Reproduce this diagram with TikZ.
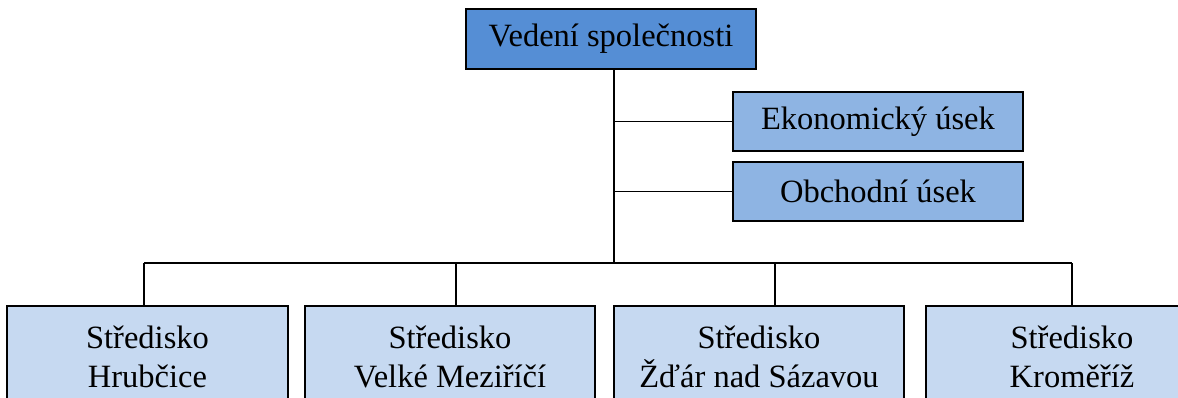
\documentclass[tikz,border=0pt]{standalone}
\usepackage{fontspec}
\setmainfont{Liberation Serif}
\definecolor{topblue}{HTML}{558ED5}
\definecolor{midblue}{HTML}{8EB4E3}
\definecolor{lowblue}{HTML}{C6D9F1}
\begin{document}
\begin{tikzpicture}[x=1pt,y=-1pt,
  boxbase/.style={draw=black,line width=1.5pt,inner sep=0pt,align=center,
    font=\fontsize{32.5}{39}\selectfont},
  topbox/.style={boxbase,fill=topblue,minimum width=290pt,minimum height=60pt},
  midbox/.style={boxbase,fill=midblue,minimum width=290pt,minimum height=59pt},
  lowbox/.style={boxbase,fill=lowblue,minimum height=102pt},
  conn/.style={draw=black,line width=1.4pt}]
\useasboundingbox (0,0) rectangle (1178,398);
\clip (0,0) rectangle (1178,398);
\node[topbox] (top) at (611,39) {Vedení společnosti};
\node[midbox] (eko) at (878,121.5) {Ekonomický úsek};
\node[midbox] (obch) at (878,191.5) {Obchodní úsek};
\node[lowbox,minimum width=281pt] (b1) at (147.5,357) {Středisko\\Hrubčice};
\node[lowbox,minimum width=290pt] (b2) at (450,357) {Středisko\\Velké Meziříčí};
\node[lowbox,minimum width=290pt] (b3) at (759,357) {Středisko\\Žďár nad Sázavou};
\node[lowbox,minimum width=292pt] (b4) at (1072,357) {Středisko\\Kroměříž};
\coordinate (tr) at (614,263);
\coordinate (c1) at (144,263);
\coordinate (c2) at (456,263);
\coordinate (c3) at (775,263);
\coordinate (c4) at (1072,263);
\draw[conn] (top.south -| tr) -- (tr);
\draw[conn] (eko.west -| tr) -- (eko.west);
\draw[conn] (obch.west -| tr) -- (obch.west);
\draw[conn] (c1) -- (c4);
\draw[conn] (c1) -- (c1 |- b1.north);
\draw[conn] (c2) -- (c2 |- b2.north);
\draw[conn] (c3) -- (c3 |- b3.north);
\draw[conn] (c4) -- (c4 |- b4.north);
\end{tikzpicture}
\end{document}
